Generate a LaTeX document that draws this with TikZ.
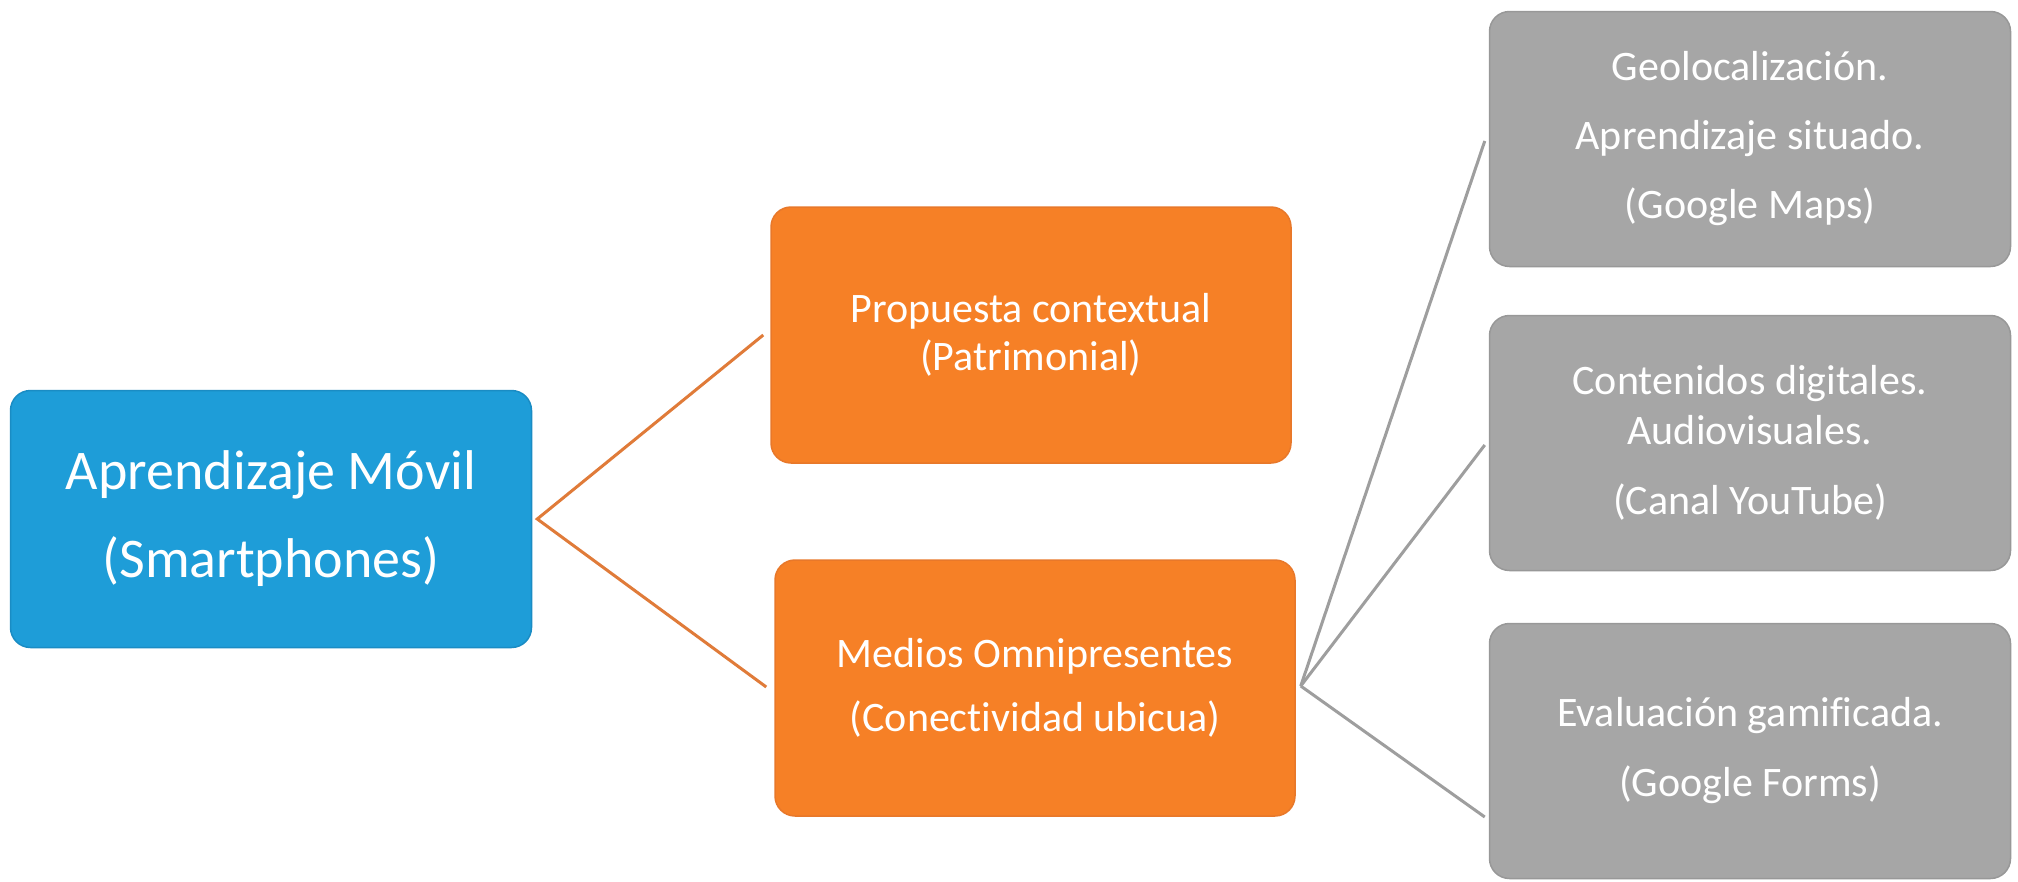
\documentclass[tikz,border=0pt]{standalone}
\usepackage{fontspec}
\setmainfont{Carlito}[Ligatures=NoCommon]
\definecolor{bluefill}{HTML}{1E9DD8}
\definecolor{blueedge}{HTML}{1A8CC4}
\definecolor{orangefill}{HTML}{F68026}
\definecolor{orangeedge}{HTML}{E8782A}
\definecolor{grayfill}{HTML}{A6A6A6}
\definecolor{grayedge}{HTML}{989898}
\definecolor{orangeline}{HTML}{E07B39}
\definecolor{grayline}{HTML}{9E9E9E}
\tikzset{
  box/.style={rounded corners=20pt, inner sep=0pt, align=center, text=white, line width=1.5pt},
  bluebox/.style={box, fill=bluefill, draw=blueedge, minimum width=521pt, minimum height=257pt},
  orangebox/.style={box, fill=orangefill, draw=orangeedge, minimum width=520pt, minimum height=256pt},
  graybox/.style={box, fill=grayfill, draw=grayedge, minimum width=521pt, minimum height=255pt},
  oline/.style={draw=orangeline, line width=3pt},
  gline/.style={draw=grayline, line width=3pt}
}
\begin{document}
\begin{tikzpicture}[x=1pt,y=-1pt]
\useasboundingbox (0,0) rectangle (2018,881);
\fill[white] (0,0) rectangle (2018,881);
\node[bluebox, font=\fontsize{56}{88}\selectfont] (b) at (271,519) {Aprendizaje Móvil\\(Smartphones)};
\node[orangebox, font=\fontsize{42}{48}\selectfont] (o1) at (1031,335) {Propuesta contextual\\(Patrimonial)};
\node[orangebox, font=\fontsize{42}{64}\selectfont] (o2) at (1035,688) {Medios Omnipresentes\\(Conectividad ubicua)};
\node[graybox, font=\fontsize{42}{69}\selectfont] (g1) at (1750,139) {Geolocalización.\\Aprendizaje situado.\\(Google Maps)};
\node[graybox, font=\fontsize{42}{50}\selectfont] (g2) at (1750,443) {Contenidos digitales.\\Audiovisuales.\\[20pt](Canal YouTube)};
\node[graybox, font=\fontsize{42}{70}\selectfont] (g3) at (1750,751) {Evaluación gamificada.\\(Google Forms)};
\coordinate (j1) at ([xshift=5pt]b.east);
\coordinate (j2) at ([xshift=5pt,yshift=2pt]o2.east);
\draw[oline] ([xshift=-7pt,yshift=0pt]o1.west) -- (j1) -- ([xshift=-8pt,yshift=1pt]o2.west);
\draw[gline] ([xshift=-4pt,yshift=-2pt]g1.west) -- (j2);
\draw[gline] ([xshift=-4pt,yshift=-2pt]g2.west) -- (j2);
\draw[gline] ([xshift=-4pt,yshift=-66pt]g3.west) -- (j2);
\end{tikzpicture}
\end{document}
